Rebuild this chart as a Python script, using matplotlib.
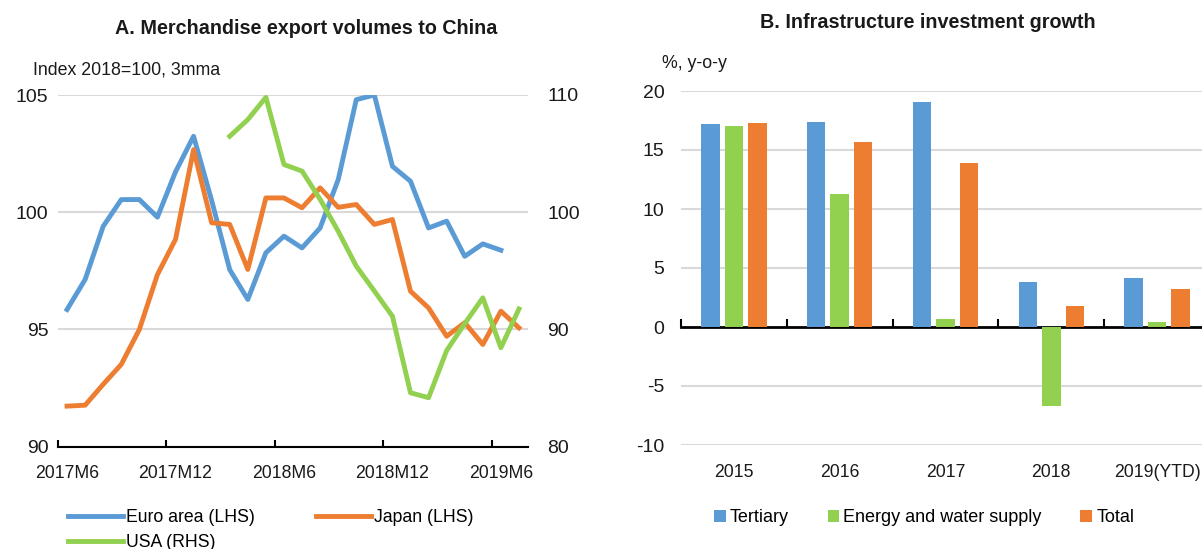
import numpy as np
import matplotlib
matplotlib.use("Agg")
import matplotlib.pyplot as plt

# ---------------- data ----------------
months = ["2017M6", "2017M7", "2017M8", "2017M9", "2017M10", "2017M11", "2017M12",
          "2018M1", "2018M2", "2018M3", "2018M4", "2018M5", "2018M6", "2018M7",
          "2018M8", "2018M9", "2018M10", "2018M11", "2018M12", "2019M1", "2019M2",
          "2019M3", "2019M4", "2019M5", "2019M6", "2019M7"]
month_tick_labels = ["2017M6", "2017M12", "2018M6", "2018M12", "2019M6"]
nan = np.nan
euro_area = [95.85, 97.13, 99.4, 100.54, 100.54, 99.79, 101.72, 103.24, 100.5, 97.55,
             96.28, 98.27, 98.98, 98.48, 99.33, 101.39, 104.8, 105.0, 101.96, 101.32,
             99.33, 99.62, 98.12, 98.65, 98.38, nan]
japan = [91.73, 91.77, 92.66, 93.51, 95.0, 97.34, 98.84, 102.67, 99.55, 99.48,
         97.56, 100.61, 100.61, 100.19, 101.04, 100.21, 100.33, 99.48, 99.69, 96.63,
         95.92, 94.71, 95.29, 94.36, 95.78, 95.07]
usa = [nan, nan, nan, nan, nan, nan, nan, nan, nan, 106.48,
       107.9, 109.8, 104.07, 103.51, 101.1, 98.38, 95.4, 93.28, 91.13, 84.6,
       84.18, 88.2, 90.5, 92.7, 88.44, 91.75]

years = ["2015", "2016", "2017", "2018", "2019(YTD)"]
tertiary = [17.2, 17.4, 19.05, 3.78, 4.17]
energy_water = [17.0, 11.3, 0.71, -6.7, 0.39]
total = [17.3, 15.7, 13.87, 1.82, 3.21]

# ---------------- style ----------------
plt.rcParams["font.family"] = ["Liberation Sans", "DejaVu Sans"]
plt.rcParams["axes.unicode_minus"] = False

BLUE = "#5B9BD5"
ORANGE = "#ED7D31"
GREEN = "#92D050"
GRID = "#D9D9D9"
TXT = "#1a1a1a"
FS_X = 12.7
FS_Y = 14
FS_LEG = 12.7
FS_TITLE = 14.2

W, H = 1202, 549
fig = plt.figure(figsize=(W / 100, H / 100), dpi=100)

# ---------------- panel A ----------------
axA = fig.add_axes([58 / W, 1 - 446.7 / H, 470 / W, (446.7 - 95) / H])
x = np.arange(len(months))
lE, = axA.plot(x, euro_area, color=BLUE, lw=3.5, label="Euro area (LHS)")
lJ, = axA.plot(x, japan, color=ORANGE, lw=3.5, label="Japan (LHS)")
axA.set_xlim(-0.5, len(months) - 0.5)
axA.set_ylim(90, 105)
axA.set_yticks([90, 95, 100, 105])
axA.yaxis.grid(True, color=GRID, lw=1.5)
axA.set_axisbelow(True)
for s in ["top", "right", "left"]:
    axA.spines[s].set_visible(False)
axA.spines["bottom"].set_linewidth(1.5)
axA.spines["bottom"].set_color("black")
axA.tick_params(axis="y", length=0, labelsize=FS_Y, pad=7, labelcolor=TXT)
# tick marks at 6-month boundaries, labels on the months themselves
axA.set_xticks(np.arange(-0.5, len(months) - 1, 6), minor=True)
axA.set_xticks([months.index(m) for m in month_tick_labels])
axA.set_xticklabels(month_tick_labels)
axA.tick_params(axis="x", which="minor", direction="in", length=5, width=1.5)
axA.tick_params(axis="x", which="major", length=0, labelsize=FS_X, pad=13, labelcolor=TXT)

axA2 = axA.twinx()
lU, = axA2.plot(x, usa, color=GREEN, lw=3.5, label="USA (RHS)")
axA2.set_ylim(80, 110)
axA2.set_yticks([80, 90, 100, 110])
for s in ["top", "right", "left", "bottom"]:
    axA2.spines[s].set_visible(False)
axA2.tick_params(axis="y", length=0, labelsize=FS_Y, pad=14, labelcolor=TXT)

fig.text(306 / W, 1 - 28 / H, "A. Merchandise export volumes to China",
         ha="center", va="center", fontsize=FS_TITLE, fontweight="bold", color=TXT)
fig.text(33 / W, 1 - 70 / H, "Index 2018=100, 3mma", ha="left", va="center",
         fontsize=12.8, color=TXT)

fig.legend(handles=[lE, lU, lJ], loc="upper left", bbox_to_anchor=(68 / W, 1 - 509 / H),
           ncol=2, frameon=False, fontsize=FS_LEG, handlelength=3.1, handletextpad=0.17,
           columnspacing=3.5, labelspacing=0.45, borderaxespad=0, borderpad=0)

# ---------------- panel B ----------------
axB = fig.add_axes([681 / W, 1 - 445 / H, 529 / W, (445 - 91) / H])
xc = np.arange(len(years))
step, bw = 0.222, 0.175
bT = axB.bar(xc - step, tertiary, bw, color=BLUE, label="Tertiary", edgecolor="none")
bE = axB.bar(xc, energy_water, bw, color=GREEN, label="Energy and water supply", edgecolor="none")
bO = axB.bar(xc + step, total, bw, color=ORANGE, label="Total", edgecolor="none")
axB.set_xlim(-0.5, len(years) - 0.5)
axB.set_ylim(-10, 20)
axB.set_yticks(np.arange(-10, 21, 5))
for v in [-10, -5, 5, 10, 15, 20]:
    axB.axhline(v, color=GRID, lw=1.5, zorder=0)
for s in ["top", "right", "left", "bottom"]:
    axB.spines[s].set_visible(False)
axB.tick_params(axis="y", length=0, labelsize=FS_Y, pad=12, labelcolor=TXT)
axB.set_xticks(xc)
axB.set_xticklabels(years)
axB.tick_params(axis="x", length=0, labelsize=FS_X, pad=14, labelcolor=TXT)
# zero axis line with category boundary ticks
zero_frac = (0 - (-10)) / 30
sec = axB.secondary_xaxis(zero_frac)
sec.set_xticks(np.arange(-0.5, len(years) - 0.5, 1))
sec.set_xticklabels([])
sec.spines["bottom"].set_linewidth(2)
sec.spines["bottom"].set_color("black")
sec.tick_params(direction="in", length=6, width=1.5)

fig.text(928 / W, 1 - 22 / H, "B. Infrastructure investment growth",
         ha="center", va="center", fontsize=FS_TITLE, fontweight="bold", color=TXT)
fig.text(662 / W, 1 - 63 / H, "%, y-o-y", ha="left", va="center",
         fontsize=12.8, color=TXT)

fig.legend(handles=[bT, bE, bO], loc="center left", bbox_to_anchor=(714 / W, 1 - 518 / H),
           ncol=3, frameon=False, fontsize=13, handlelength=0.65, handleheight=0.65,
           handletextpad=0.22, columnspacing=2.15, borderaxespad=0, borderpad=0)

fig.savefig("out.png", dpi=100)
